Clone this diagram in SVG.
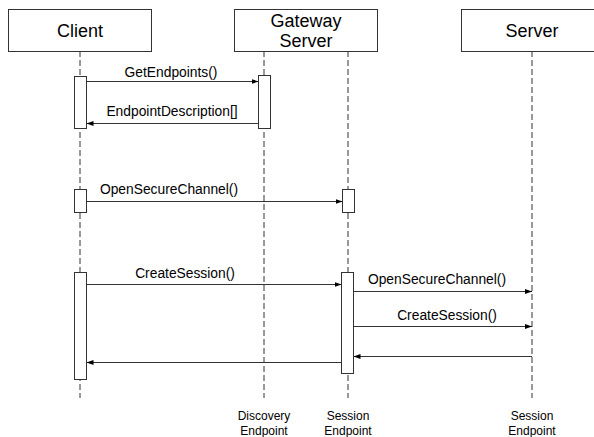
<svg xmlns="http://www.w3.org/2000/svg" width="594" height="437" viewBox="0 0 594 437">
<style>
.box{fill:#fff;stroke:#333;stroke-width:1}
.act{fill:#fff;stroke:#333;stroke-width:1}
.life{stroke:#333;stroke-width:1;stroke-dasharray:6,3;fill:none}
.msg{stroke:#333;stroke-width:1;fill:none}
.t{font-family:"Liberation Sans",Arial,sans-serif;fill:#000;text-anchor:middle}
.title{font-size:18px}
.lbl{font-size:13.8px}
.foot{font-size:12px}
</style>
<defs>
<marker id="ah" markerWidth="8" markerHeight="8" refX="7" refY="4" orient="auto" markerUnits="userSpaceOnUse">
<path d="M0,1.5 L7,4 L0,6.5 Z" fill="#000"/>
</marker>
</defs>
<g id="lifelines">
<line class="life" x1="80" y1="51" x2="80" y2="398"/>
<line class="life" x1="264" y1="51" x2="264" y2="398"/>
<line class="life" x1="348" y1="51" x2="348" y2="398"/>
<line class="life" x1="532" y1="51" x2="532" y2="398"/>
</g>
<g id="client">
<rect class="box" x="8.5" y="9.5" width="143" height="42"/>
<text class="t title" x="80" y="37">Client</text>
</g>
<g id="gateway">
<rect class="box" x="234.5" y="9.5" width="143" height="42"/>
<text class="t title" x="306" y="27">Gateway</text>
<text class="t title" x="306" y="47">Server</text>
</g>
<g id="server">
<rect class="box" x="461.5" y="9.5" width="143" height="42"/>
<text class="t title" x="532" y="37">Server</text>
</g>
<g id="activations">
<rect class="act" x="74.5" y="76.5" width="12" height="52"/>
<rect class="act" x="258.5" y="75.5" width="12" height="53"/>
<rect class="act" x="74.5" y="189.5" width="12" height="23"/>
<rect class="act" x="342.5" y="189.5" width="12" height="23"/>
<rect class="act" x="74.5" y="272.5" width="12" height="107"/>
<rect class="act" x="341.5" y="272.5" width="12" height="101"/>
</g>
<g id="connectors">
<line class="msg" x1="86.5" y1="81.5" x2="258.5" y2="81.5" marker-end="url(#ah)"/>
<line class="msg" x1="258.5" y1="123.5" x2="86.5" y2="123.5" marker-end="url(#ah)"/>
<line class="msg" x1="86.5" y1="201.5" x2="342.5" y2="201.5" marker-end="url(#ah)"/>
<line class="msg" x1="86.5" y1="284.5" x2="341.5" y2="284.5" marker-end="url(#ah)"/>
<line class="msg" x1="353.5" y1="291.5" x2="532" y2="291.5" marker-end="url(#ah)"/>
<line class="msg" x1="353.5" y1="326.5" x2="532" y2="326.5" marker-end="url(#ah)"/>
<line class="msg" x1="532" y1="356.5" x2="353.5" y2="356.5" marker-end="url(#ah)"/>
<line class="msg" x1="341.5" y1="362.5" x2="86.5" y2="362.5" marker-end="url(#ah)"/>
</g>
<g id="labels">
<text class="t lbl" x="171" y="77">GetEndpoints()</text>
<text class="t lbl" x="172" y="116">EndpointDescription[]</text>
<text class="t lbl" x="169" y="194">OpenSecureChannel()</text>
<text class="t lbl" x="185" y="278">CreateSession()</text>
<text class="t lbl" x="437" y="284">OpenSecureChannel()</text>
<text class="t lbl" x="447" y="320">CreateSession()</text>
</g>
<g id="footer">
<text class="t foot" x="264" y="420">Discovery</text>
<text class="t foot" x="264" y="434.5">Endpoint</text>
<text class="t foot" x="348" y="420">Session</text>
<text class="t foot" x="348" y="434.5">Endpoint</text>
<text class="t foot" x="532" y="420">Session</text>
<text class="t foot" x="532" y="434.5">Endpoint</text>
</g>
</svg>
